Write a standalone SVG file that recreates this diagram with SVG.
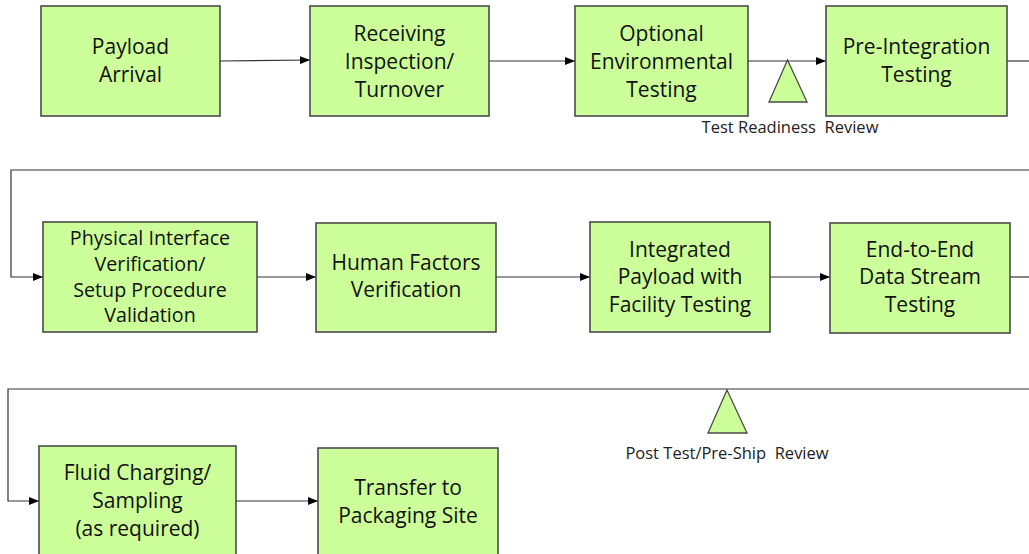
<svg xmlns="http://www.w3.org/2000/svg" width="1029" height="554" viewBox="0 0 1029 554">
<style>
.box{fill:#ccff99;stroke:#4a4a4a;stroke-width:1.6}
.tri{fill:#ccff99;stroke:#4a4a4a;stroke-width:1.3}
.t{font-family:"Open Sans","Liberation Sans",sans-serif;font-size:21px;fill:#111;text-anchor:middle}
.s{font-size:19.7px}
.lbl{font-family:"Open Sans","Liberation Sans",sans-serif;font-size:16.5px;fill:#222;text-anchor:middle;white-space:pre}
.ln{fill:none;stroke:#333;stroke-width:1.2}
</style>
<defs>
<marker id="ah" markerWidth="10" markerHeight="8" refX="10" refY="4" orient="auto" markerUnits="userSpaceOnUse">
<path d="M0,0 L10,4 L0,8 Z" fill="#000"/>
</marker>
</defs>
<rect width="1029" height="554" fill="#fff"/>
<g id="connectors">
<path class="ln" d="M220,61 L310,60" marker-end="url(#ah)"/>
<path class="ln" d="M489,61 L575,61" marker-end="url(#ah)"/>
<path class="ln" d="M748,61 L826,61" marker-end="url(#ah)"/>
<path class="ln" d="M1007,61 L1029,61"/>
<path class="ln" d="M1029,170 L11,170 L11,277 L43,277" marker-end="url(#ah)"/>
<path class="ln" d="M257,277 L316,277" marker-end="url(#ah)"/>
<path class="ln" d="M496,277 L590,277" marker-end="url(#ah)"/>
<path class="ln" d="M770,277 L830,277" marker-end="url(#ah)"/>
<path class="ln" d="M1010,277 L1029,277"/>
<path class="ln" d="M1029,389 L8,389 L8,501 L39,501" marker-end="url(#ah)"/>
<path class="ln" d="M236,501 L318,501" marker-end="url(#ah)"/>
</g>
<g id="n1"><rect class="box" x="41" y="6" width="179" height="110"/>
<text class="t" x="130.5" y="54">Payload</text><text class="t" x="130.5" y="82">Arrival</text></g>
<g id="n2"><rect class="box" x="310" y="6" width="179" height="110"/>
<text class="t" x="399.5" y="41">Receiving</text><text class="t" x="399.5" y="69">Inspection/</text><text class="t" x="399.5" y="97">Turnover</text></g>
<g id="n3"><rect class="box" x="575" y="6" width="173" height="110"/>
<text class="t" x="661.5" y="41">Optional</text><text class="t" x="661.5" y="69">Environmental</text><text class="t" x="661.5" y="97">Testing</text></g>
<g id="trr"><polygon class="tri" points="787.5,60 769,102 807,102"/>
<text class="lbl" x="790" y="133" xml:space="preserve">Test Readiness  Review</text></g>
<g id="n4"><rect class="box" x="826" y="6" width="181" height="110"/>
<text class="t" x="916.5" y="54">Pre-Integration</text><text class="t" x="916.5" y="82">Testing</text></g>
<g id="n5"><rect class="box" x="43" y="222" width="214" height="110"/>
<text class="t s" x="150" y="245">Physical Interface</text><text class="t s" x="150" y="271">Verification/</text><text class="t s" x="150" y="297">Setup Procedure</text><text class="t s" x="150" y="322">Validation</text></g>
<g id="n6"><rect class="box" x="316" y="223" width="180" height="109"/>
<text class="t" x="406" y="270">Human Factors</text><text class="t" x="406" y="297">Verification</text></g>
<g id="n7"><rect class="box" x="590" y="222" width="180" height="110"/>
<text class="t" x="680" y="257">Integrated</text><text class="t" x="680" y="284">Payload with</text><text class="t" x="680" y="312">Facility Testing</text></g>
<g id="n8"><rect class="box" x="830" y="223" width="180" height="110"/>
<text class="t" x="920" y="257">End-to-End</text><text class="t" x="920" y="284">Data Stream</text><text class="t" x="920" y="312">Testing</text></g>
<g id="ptr"><polygon class="tri" points="727,390 708,433 747,433"/>
<text class="lbl" x="727" y="459" xml:space="preserve">Post Test/Pre-Ship  Review</text></g>
<g id="n9"><rect class="box" x="39" y="446" width="197" height="120"/>
<text class="t" x="137.5" y="480">Fluid Charging/</text><text class="t" x="137.5" y="508">Sampling</text><text class="t" x="137.5" y="536">(as required)</text></g>
<g id="n10"><rect class="box" x="318" y="448" width="180" height="118"/>
<text class="t" x="408" y="495">Transfer to</text><text class="t" x="408" y="523">Packaging Site</text></g>
</svg>
